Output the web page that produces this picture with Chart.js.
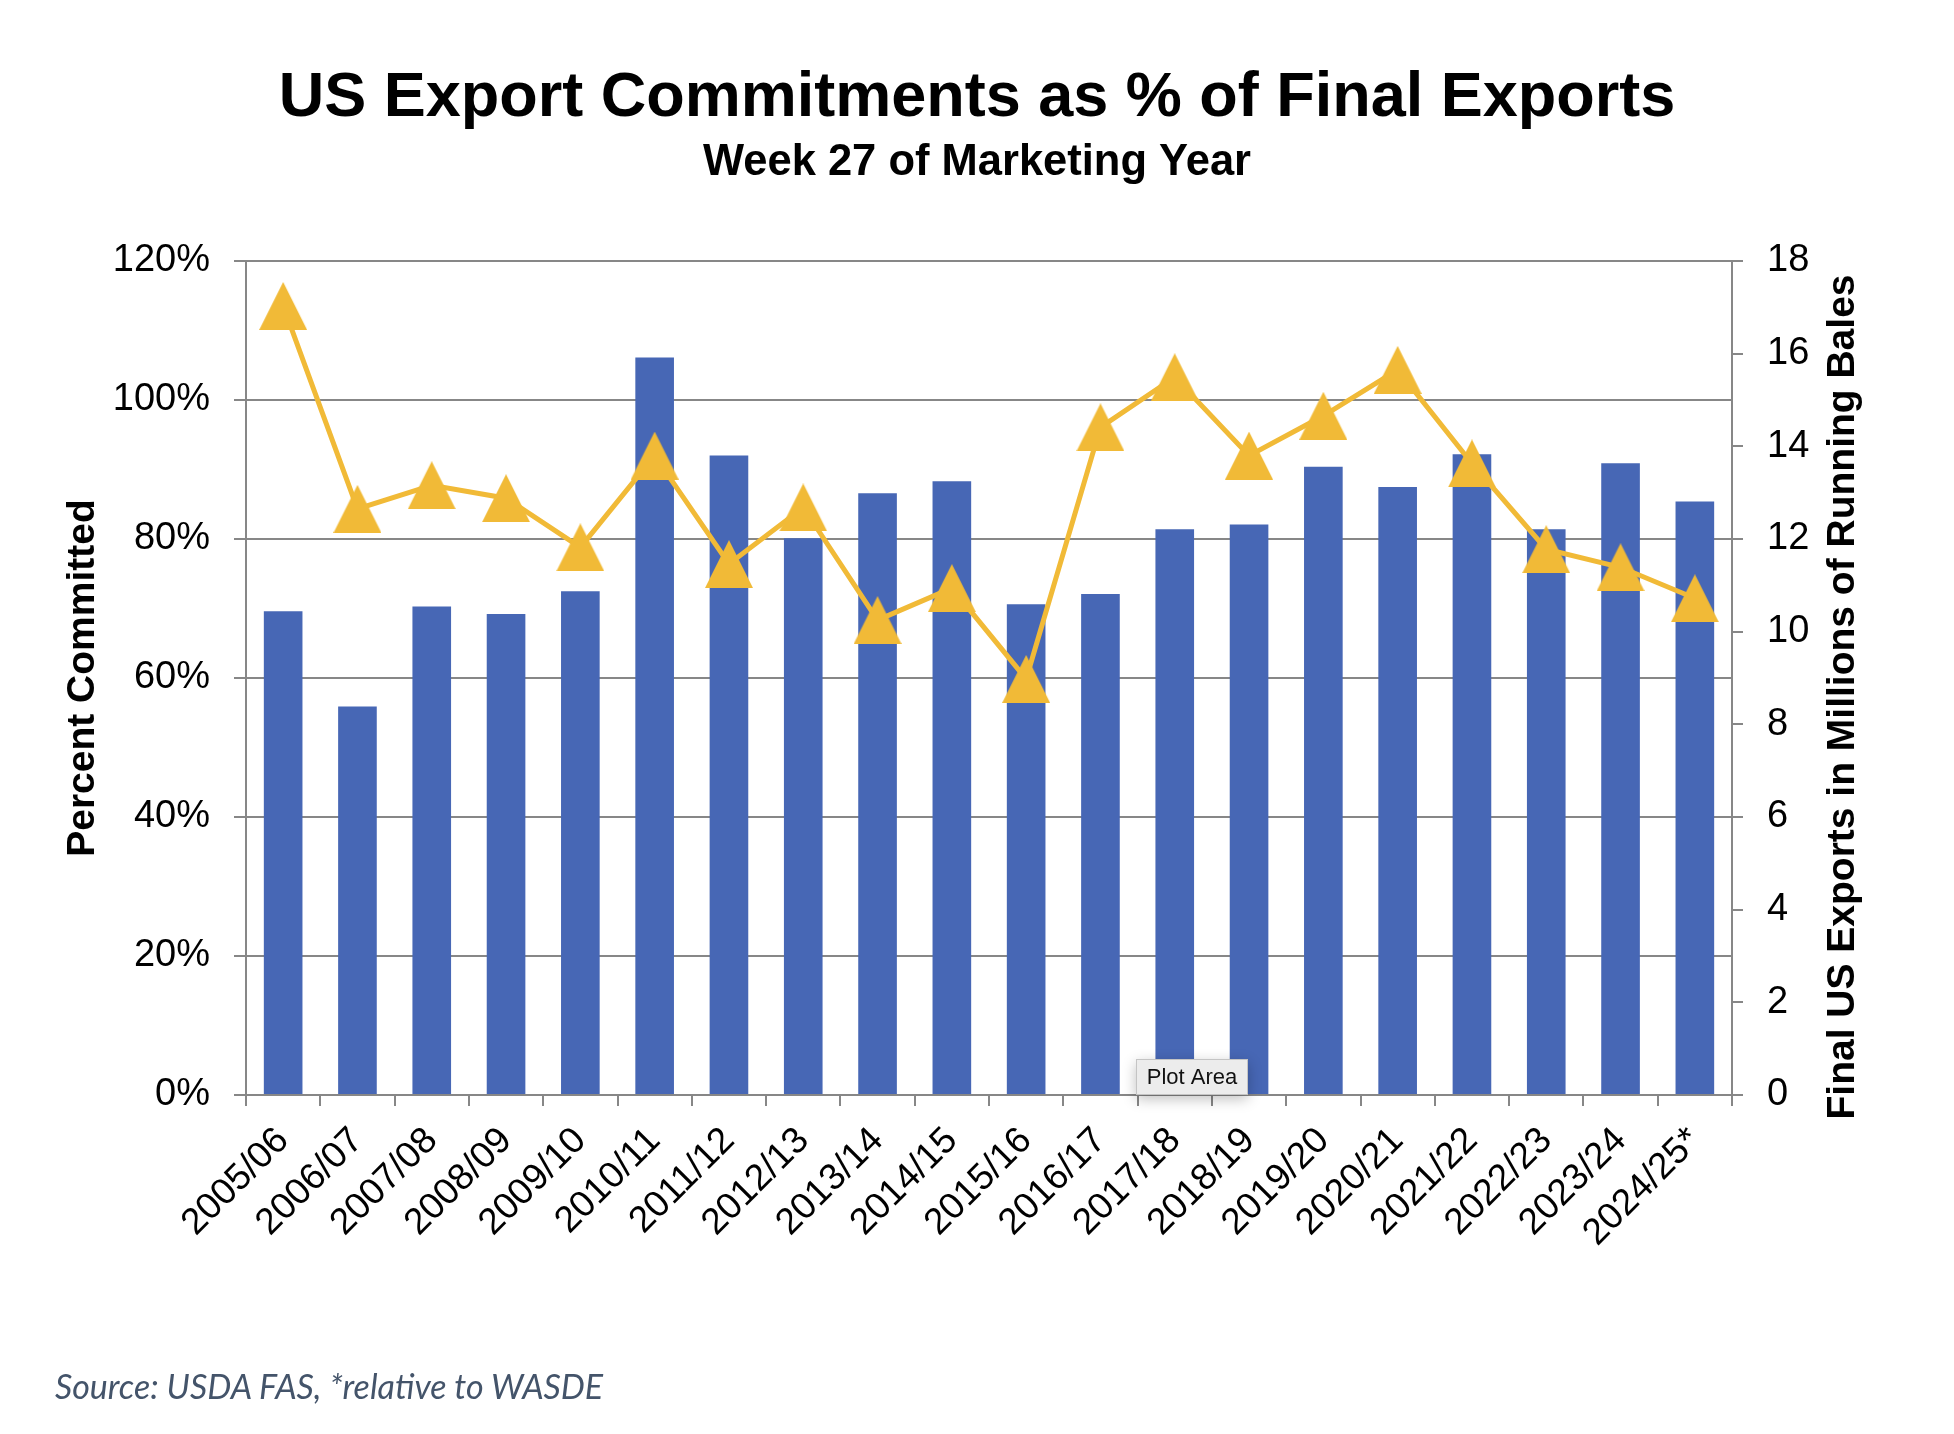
<!DOCTYPE html>
<html>
<head>
<meta charset="utf-8">
<script src="https://cdn.jsdelivr.net/npm/chart.js@4/dist/chart.umd.min.js"></script>
<style>
html,body{margin:0;padding:0;background:#fff;}
#wrap{position:relative;width:1954px;height:1434px;overflow:hidden;}
#c{position:absolute;left:0;top:0;}
#src{position:absolute;left:55px;top:1366px;font-family:Lato,'Open Sans',sans-serif;font-style:italic;font-size:34px;line-height:1.2;color:#44546A;white-space:nowrap;}
</style>
</head>
<body>
<div id="wrap">
<canvas id="c" width="1954" height="1434"></canvas>
<div id="src">Source: USDA FAS, *relative to WASDE</div>
</div>
<script>
const categories = ['2005/06','2006/07','2007/08','2008/09','2009/10','2010/11','2011/12','2012/13','2013/14','2014/15','2015/16','2016/17','2017/18','2018/19','2019/20','2020/21','2021/22','2022/23','2023/24','2024/25*'];
const percentCommitted = [69.6, 55.9, 70.3, 69.2, 72.5, 106.1, 92.0, 80.1, 86.6, 88.3, 70.6, 72.1, 81.4, 82.1, 90.4, 87.5, 92.2, 81.4, 90.9, 85.4];
const finalExports = [17.03, 12.65, 13.16, 12.88, 11.82, 13.80, 11.46, 12.68, 10.25, 10.94, 8.98, 14.41, 15.49, 13.80, 14.66, 15.65, 13.63, 11.78, 11.39, 10.72];
const leftTickLabels = ['0%','20%','40%','60%','80%','100%','120%'];
const rightTickLabels = ['0','2','4','6','8','10','12','14','16','18'];
const rightAxisTitle = 'Final US Exports in Millions of Running Bales';

const FAM = "'Liberation Sans', Arial, Helvetica, sans-serif";
const GRID = '#878787';
const BAR = '#4767B5';
const GOLD = '#F1BA37';

function makeTriangle(w, h, color) {
  const c = document.createElement('canvas');
  c.width = w; c.height = h;
  const g = c.getContext('2d');
  g.fillStyle = color;
  g.beginPath();
  g.moveTo(w / 2, 0);
  g.lineTo(w, h);
  g.lineTo(0, h);
  g.closePath();
  g.fill();
  return c;
}
const tri = makeTriangle(48, 48, GOLD);

const extras = {
  id: 'extras',
  afterDraw(chart) {
    const { ctx, chartArea } = chart;
    // right axis title, reading bottom-to-top
    ctx.save();
    ctx.font = 'bold 39px ' + FAM;
    ctx.fillStyle = '#000';
    ctx.textAlign = 'center';
    ctx.textBaseline = 'middle';
    ctx.translate(chart.scales.y1.right - 111, (chartArea.top + chartArea.bottom) / 2 + 19);
    ctx.rotate(-Math.PI / 2);
    ctx.fillText(rightAxisTitle, 0, 0);
    ctx.restore();
    // hover tag
    const w = 112, h = 36;
    const x = chartArea.left + 890, y = chartArea.bottom - h;
    ctx.save();
    ctx.shadowColor = 'rgba(0,0,0,0.25)';
    ctx.shadowBlur = 14;
    ctx.shadowOffsetY = 4;
    ctx.fillStyle = '#ECECEC';
    ctx.fillRect(x, y, w, h);
    ctx.shadowColor = 'transparent';
    ctx.strokeStyle = '#C4C4C4';
    ctx.lineWidth = 1;
    ctx.strokeRect(x + 0.5, y + 0.5, w - 1, h - 1);
    ctx.fillStyle = '#111';
    ctx.font = '22px ' + FAM;
    ctx.textAlign = 'center';
    ctx.textBaseline = 'middle';
    ctx.fillText('Plot Area', x + w / 2, y + h / 2 + 1);
    ctx.restore();
  }
};

Chart.defaults.font.family = FAM;
Chart.defaults.color = '#000';

new Chart(document.getElementById('c'), {
  data: {
    labels: categories,
    datasets: [
      {
        type: 'line',
        label: 'Final US Exports',
        data: finalExports,
        yAxisID: 'y1',
        borderColor: GOLD,
        backgroundColor: GOLD,
        borderWidth: 5,
        pointStyle: tri,
        pointRadius: 24,
        pointHoverRadius: 24,
        tension: 0,
        order: 0,
        clip: false
      },
      {
        type: 'bar',
        label: 'Percent Committed',
        data: percentCommitted,
        yAxisID: 'y',
        backgroundColor: BAR,
        borderWidth: 0,
        barPercentage: 0.52,
        categoryPercentage: 1.0,
        order: 1
      }
    ]
  },
  options: {
    responsive: false,
    animation: false,
    events: [],
    layout: { padding: 0 },
    plugins: {
      legend: { display: false },
      tooltip: { enabled: false },
      title: {
        display: true,
        text: 'US Export Commitments as % of Final Exports',
        color: '#000',
        font: { size: 63, weight: 'bold', family: FAM },
        padding: { top: 61, bottom: 0 }
      },
      subtitle: {
        display: true,
        text: 'Week 27 of Marketing Year',
        color: '#000',
        font: { size: 43.5, weight: 'bold', family: FAM },
        padding: { top: 0, bottom: 72.2 }
      }
    },
    scales: {
      x: {
        type: 'category',
        offset: true,
        grid: { drawOnChartArea: false, drawTicks: true, offset: true, tickLength: 11, color: GRID, lineWidth: 2 },
        border: { display: true, color: GRID, width: 2 },
        ticks: { autoSkip: false, maxRotation: 45, minRotation: 45, padding: 13, color: '#000', font: { size: 37, family: FAM } },
        afterFit(s) { s.height = 339; }
      },
      y: {
        position: 'left',
        min: 0, max: 120,
        ticks: { stepSize: 20, padding: 24, color: '#000', font: { size: 38, family: FAM },
          callback: (v) => leftTickLabels[Math.round(v / 20)] },
        grid: { color: GRID, lineWidth: 2, tickLength: 12, drawTicks: true },
        border: { display: true, color: GRID, width: 2 },
        title: { display: true, text: 'Percent Committed', color: '#000', font: { size: 39, weight: 'bold', family: FAM }, padding: { top: 60, bottom: 0 } },
        afterFit(s) { s.width = 246; }
      },
      y1: {
        position: 'right',
        min: 0, max: 18,
        ticks: { stepSize: 2, padding: 24, color: '#000', font: { size: 38, family: FAM },
          callback: (v) => rightTickLabels[Math.round(v / 2)] },
        grid: { drawOnChartArea: false, color: GRID, lineWidth: 2, tickLength: 11, drawTicks: true },
        border: { display: true, color: GRID, width: 2 },
        title: { display: false },
        afterFit(s) { s.width = 222; }
      }
    }
  },
  plugins: [extras]
});
</script>
</body>
</html>
